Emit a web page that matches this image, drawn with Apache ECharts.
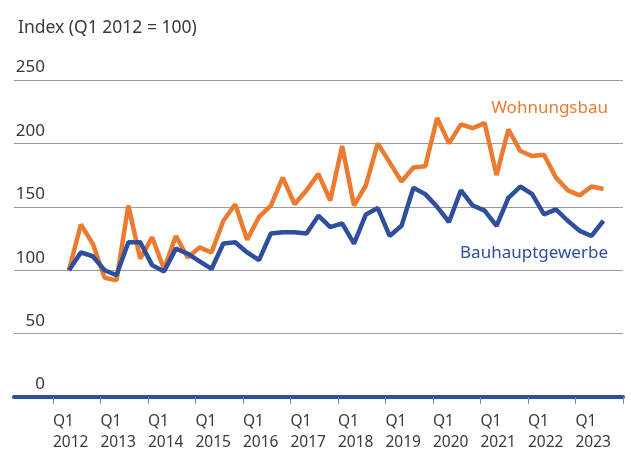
<!DOCTYPE html>
<html>
<head>
<meta charset="utf-8">
<style>
  html, body { margin: 0; padding: 0; background: #fff; }
  #chart { width: 631px; height: 453px; }
</style>
<script src="https://cdn.jsdelivr.net/npm/echarts@6/dist/echarts.min.js"></script>
</head>
<body>
<div id="chart"></div>
<script>
// quarterly index, Q1 2012 = 100 (Q1 2012 .. Q2 2023)
var wohnungsbau = [100, 136, 121, 94, 92, 151, 109, 126, 101, 127, 110, 118,
  114, 139, 152, 124, 142, 151, 173, 152, 163, 176, 155, 198,
  151, 167, 200, 185, 170, 181, 182, 220, 200, 215, 212, 216,
  175, 211, 194, 190, 191, 173, 163, 159, 166, 164];
var bauhauptgewerbe = [100, 114, 111, 100, 96, 122, 122, 104, 99, 117, 113, 107,
  101, 121, 122, 114, 108, 129, 130, 130, 129, 143, 134, 137,
  121, 144, 149, 127, 135, 165, 160, 150, 138, 163, 151, 147,
  135, 157, 166, 160, 144, 148, 139, 131, 127, 139];
var years = [2012, 2013, 2014, 2015, 2016, 2017, 2018, 2019, 2020, 2021, 2022, 2023];

var ORANGE = '#ec7a2f';
var BLUE = '#2d4f9e';
var TEXT = '#3a3a3a';

// ticks sit a bit left of each Q1 point
var tickOffset = -1.35;
var tickVals = [];
var labelVals = [];
for (var k = 0; k <= years.length; k++) {
  tickVals.push(tickOffset + 4 * k);
  if (k < years.length) labelVals.push(tickOffset + 4 * k);
}

function toPairs(arr) {
  return arr.map(function (v, i) { return [i, v]; });
}

var chart = echarts.init(document.getElementById('chart'));

var option = {
  animation: false,
  title: {
    text: 'Index (Q1 2012 = 100)',
    left: 13,
    top: 14,
    textStyle: {
      fontFamily: 'Noto Sans',
      fontSize: 17.5,
      fontWeight: 'normal',
      color: TEXT
    }
  },
  grid: {
    left: 14,
    right: 8,
    top: 80,
    bottom: 53
  },
  xAxis: {
    type: 'value',
    min: -4.63,
    max: tickOffset + 4 * years.length,
    splitLine: { show: false },
    axisLine: {
      show: true,
      lineStyle: { color: BLUE, width: 4 }
    },
    axisTick: {
      show: true,
      customValues: tickVals,
      length: 7,
      lineStyle: { color: '#8a8a8a', width: 1 }
    },
    axisLabel: {
      customValues: labelVals,
      align: 'left',
      margin: 14,
      lineHeight: 21,
      fontFamily: 'Noto Sans',
      fontSize: 15.5,
      color: TEXT,
      formatter: function (v) {
        var idx = Math.round((v - tickOffset) / 4);
        return 'Q1\n' + years[idx];
      }
    }
  },
  yAxis: {
    type: 'value',
    min: 0,
    max: 250,
    interval: 50,
    axisLine: { show: false },
    axisTick: { show: false },
    splitLine: {
      lineStyle: { color: '#9a9a9a', width: 1 }
    },
    axisLabel: {
      inside: true,
      align: 'right',
      verticalAlign: 'bottom',
      margin: 31,
      padding: [0, 0, 4, 0],
      fontFamily: 'Noto Sans',
      fontSize: 17,
      color: TEXT
    }
  },
  graphic: [
    {
      type: 'text',
      right: 23,
      top: 100,
      style: {
        text: 'Wohnungsbau',
        fill: ORANGE,
        font: '17px "Noto Sans"',
        textAlign: 'right'
      }
    },
    {
      type: 'text',
      right: 23,
      top: 245,
      style: {
        text: 'Bauhauptgewerbe',
        fill: BLUE,
        font: '17px "Noto Sans"',
        textAlign: 'right'
      }
    }
  ],
  series: [
    {
      name: 'Wohnungsbau',
      type: 'line',
      data: toPairs(wohnungsbau),
      showSymbol: false,
      lineStyle: { color: ORANGE, width: 4.5 },
      itemStyle: { color: ORANGE },
      z: 3
    },
    {
      name: 'Bauhauptgewerbe',
      type: 'line',
      data: toPairs(bauhauptgewerbe),
      showSymbol: false,
      lineStyle: { color: BLUE, width: 4.5 },
      itemStyle: { color: BLUE },
      z: 4
    }
  ]
};

chart.setOption(option);
</script>
</body>
</html>
